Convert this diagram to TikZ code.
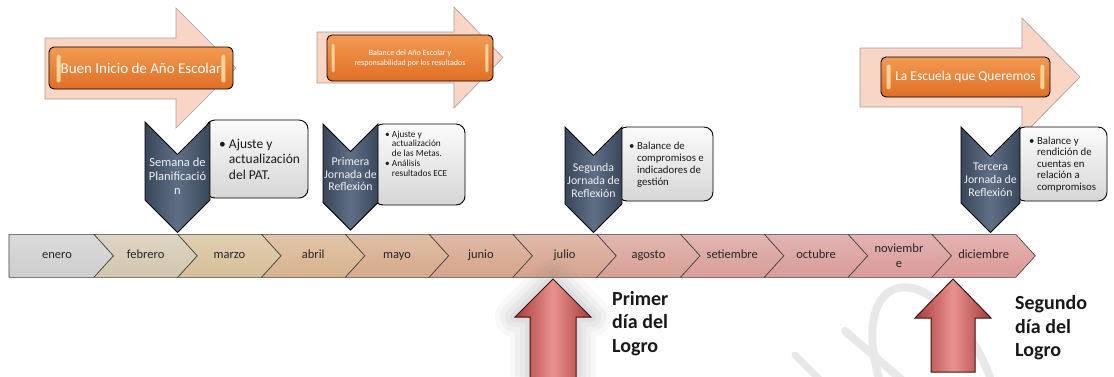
\documentclass[tikz,border=0pt]{standalone}
\usepackage{fontspec}
\setmainfont{Carlito}
\definecolor{pinkA}{HTML}{F9D5C6}
\definecolor{pinkLine}{HTML}{A89C9C}
\definecolor{orT}{HTML}{F39A52}
\definecolor{orB}{HTML}{E06F24}
\definecolor{obar}{HTML}{FBD49A}
\definecolor{chevD}{HTML}{3A475A}
\definecolor{chevL}{HTML}{5F6F86}
\definecolor{chevT}{HTML}{EEF1F5}
\definecolor{boxT}{HTML}{FBFBFB}
\definecolor{boxB}{HTML}{D6D6D6}
\definecolor{redD}{HTML}{A83A38}
\definecolor{redL}{HTML}{E8928F}
\definecolor{redE}{HTML}{3A1414}
\definecolor{monthtext}{HTML}{262626}
\definecolor{wm}{HTML}{E8E8E8}
\definecolor{m0}{HTML}{CECECE}
\definecolor{m1}{HTML}{D2C6AE}
\definecolor{m2}{HTML}{D6BE98}
\definecolor{m3}{HTML}{D7B28D}
\definecolor{m4}{HTML}{D6A98A}
\definecolor{m5}{HTML}{D5A38A}
\definecolor{m6}{HTML}{D6A28D}
\definecolor{m7}{HTML}{D79F95}
\definecolor{m8}{HTML}{D89D98}
\definecolor{m9}{HTML}{D89B99}
\definecolor{m10}{HTML}{D99A99}
\definecolor{m11}{HTML}{DB9996}
\tikzset{
  pinkarrow/.style={fill=pinkA, draw=pinkLine, line width=0.6pt, line join=miter},
  orangebox/.style={draw=black, line width=0.9pt, rounded corners=5pt, top color=orT, bottom color=orB, text=white, inner sep=0pt},
  orbar/.style={fill=obar, rounded corners=1.5pt},
  chev/.style={draw=black, line width=0.8pt, left color=chevD, right color=chevD, middle color=chevL},
  chevtext/.style={text=chevT, align=center, inner sep=0pt},
  callout/.style={draw=black, line width=0.9pt, rounded corners=9pt, top color=boxT, bottom color=boxB, inner sep=0pt},
  callouttext/.style={align=left, anchor=west, inner sep=0pt, text=black!90},
  seg/.style={draw=black!75, line width=0.6pt},
  monthlbl/.style={font=\fontsize{12.5}{14}\selectfont, text=monthtext, align=center, inner sep=0pt},
  monthone/.style={monthlbl, text height=8.6pt, text depth=2.9pt},
  redarrow/.style={draw=redE, line width=1pt, left color=redD, right color=redD, middle color=redL, line join=miter},
  glow/.style={draw=gray, line join=round},
  wmark/.style={draw=wm, line cap=round},
  logro/.style={font=\bfseries\fontsize{20}{23.5}\selectfont, align=left, anchor=west, inner sep=0pt, text=black!90}
}
\begin{document}
\begin{tikzpicture}[x=1pt,y=-1pt]
\clip (0,0) rectangle (1114,376);
\fill[white] (0,0) rectangle (1114,376);

% watermark
\draw[wmark, line width=8pt, rotate around={25:(937,385)}] (937,385) ellipse [x radius=52, y radius=105];
\draw[wmark, line width=8pt] (845,331) -- (902,380);
\draw[wmark, line width=7pt] (795,355) -- (820,380);

% top pink arrows
\draw[pinkarrow] (45,38) -- (176,38) -- (176,8) -- (236,68) -- (176,128) -- (176,99) -- (45,99) -- cycle;
\draw[pinkarrow] (317,32) -- (454,32) -- (454,7) -- (503,57.5) -- (454,108) -- (454,83) -- (317,83) -- cycle;
\draw[pinkarrow] (860,48) -- (1022,48) -- (1022,18) -- (1080,77) -- (1022,136) -- (1022,107) -- (860,107) -- cycle;

% orange boxes
\node[orangebox, minimum width=184pt, minimum height=42pt, font=\fontsize{15}{17}\selectfont] (o1) at (141,68) {Buen Inicio de Año Escolar};
\node[orangebox, minimum width=166pt, minimum height=46pt, align=center, font=\fontsize{8}{10}\selectfont] (o2) at (410,58) {Balance del Año Escolar y\\responsabilidad por los resultados};
\node[orangebox, minimum width=169pt, minimum height=40pt, font=\fontsize{13.5}{15}\selectfont] (o3) at (965.5,77) {La Escuela que Queremos};
\fill[orbar] ([xshift=8pt,yshift=-8pt]o1.north west) rectangle ([xshift=12pt,yshift=7pt]o1.south west);
\fill[orbar] ([xshift=-12pt,yshift=-8pt]o1.north east) rectangle ([xshift=-8pt,yshift=7pt]o1.south east);
\fill[orbar] ([xshift=5pt,yshift=-9pt]o2.north west) rectangle ([xshift=8pt,yshift=9pt]o2.south west);
\fill[orbar] ([xshift=-8pt,yshift=-9pt]o2.north east) rectangle ([xshift=-5pt,yshift=9pt]o2.south east);
\fill[orbar] ([xshift=6pt,yshift=-8pt]o3.north west) rectangle ([xshift=10pt,yshift=8pt]o3.south west);
\fill[orbar] ([xshift=-10pt,yshift=-8pt]o3.north east) rectangle ([xshift=-6pt,yshift=8pt]o3.south east);

% callout boxes
\node[callout, minimum width=102pt, minimum height=78pt] (c1) at (257,159) {};
\node[callout, minimum width=91pt, minimum height=81pt] (c2) at (419.5,164.5) {};
\node[callout, minimum width=95pt, minimum height=74pt] (c3) at (665.5,164) {};
\node[callout, minimum width=91pt, minimum height=74pt] (c4) at (1061.5,164) {};

\node[callouttext, font=\fontsize{13.5}{15.5}\selectfont] (t1) at (219,159)
  {\textbullet\ Ajuste y\\\phantom{\textbullet\ }actualización\\\phantom{\textbullet\ }del PAT.};
\node[callouttext, font=\fontsize{9.3}{9.6}\selectfont] (t2) at (385,153.5)
  {\textbullet\ Ajuste y\\\phantom{\textbullet\ }actualización\\\phantom{\textbullet\ }de las Metas.\\[0.8pt]\textbullet\ Análisis\\\phantom{\textbullet\ }resultados ECE};
\node[callouttext, font=\fontsize{10.8}{12}\selectfont] (t3) at (629,165)
  {\textbullet\ Balance de\\\phantom{\textbullet\ }compromisos e\\\phantom{\textbullet\ }indicadores de\\\phantom{\textbullet\ }gestión};
\node[callouttext, font=\fontsize{10.8}{11.4}\selectfont] (t4) at (1029,164.5)
  {\textbullet\ Balance y\\\phantom{\textbullet\ }rendición de\\\phantom{\textbullet\ }cuentas en\\\phantom{\textbullet\ }relación a\\\phantom{\textbullet\ }compromisos};

% down chevrons
\draw[chev] (145,122) -- (177.5,154.5) -- (210,122) -- (210,200) -- (177.5,232.5) -- (145,200) -- cycle;
\draw[chev] (323,124) -- (350.5,151.5) -- (378,124) -- (378,202.5) -- (350.5,230) -- (323,202.5) -- cycle;
\draw[chev] (565,127) -- (593.5,155.5) -- (622,127) -- (622,204) -- (593.5,232.5) -- (565,204) -- cycle;
\draw[chev] (961,127) -- (990.5,156.5) -- (1020,127) -- (1020,203) -- (990.5,232.5) -- (961,203) -- cycle;
\node[chevtext, font=\fontsize{12.5}{14}\selectfont] (k1) at (177.5,176) {Semana de\\Planificació\\n};
\node[chevtext, font=\fontsize{11.8}{12.5}\selectfont] (k2) at (350.5,174) {Primera\\Jornada de\\Reflexión};
\node[chevtext, font=\fontsize{11.8}{13}\selectfont] (k3) at (593.5,180) {Segunda\\Jornada de\\Reflexión};
\node[chevtext, font=\fontsize{11.8}{13}\selectfont] (k4) at (990.5,180) {Tercera\\Jornada de\\Reflexión};

% timeline
\foreach \i/\c/\t in {0/m0/enero,1/m1/febrero,2/m2/marzo,3/m3/abril,4/m4/mayo,5/m5/junio,6/m6/julio,7/m7/agosto,8/m8/setiembre,9/m9/octubre,10/m10/noviembre,11/m11/diciembre}{
  \pgfmathsetmacro\xl{10.2+83.8*\i}
  \pgfmathsetmacro\xr{10.2+83.8*(\i+1)}
  \ifnum\i=0
    \draw[seg, top color=\c!75!white, bottom color=\c] (9,234.3) -- (\xr,234.3) -- (\xr+19.5,255.8) -- (\xr,277.3) -- (9,277.3) -- cycle;
  \else
    \draw[seg, top color=\c!75!white, bottom color=\c] (\xl,234.3) -- (\xr,234.3) -- (\xr+19.5,255.8) -- (\xr,277.3) -- (\xl,277.3) -- (\xl+19.5,255.8) -- cycle;
  \fi
}
\foreach \i/\t in {1/febrero,2/marzo,3/abril,4/mayo,5/junio,6/julio,7/agosto,8/setiembre,9/octubre,11/diciembre}{
  \pgfmathsetmacro\xm{10.2+83.8*\i+41.9+9.75}
  \node[monthone] (mon\i) at (\xm,255.8) {\t};
}
\node[monthone] (mon0) at (57,255.8) {enero};
\node[monthlbl, font=\fontsize{12.5}{15}\selectfont] (mon10) at (899,255.8) {noviembr\\e};

% glow behind first red arrow
\foreach \w/\o in {40/0.05,30/0.06,20/0.07,10/0.08}{
  \draw[glow, line width=\w pt, opacity=\o] (553,279) -- (591,317) -- (576,317) -- (576,380) -- (530,380) -- (530,317) -- (515,317) -- cycle;
}
% red arrows
\draw[redarrow] (553,279) -- (591,317) -- (576,317) -- (576,380) -- (530,380) -- (530,317) -- (515,317) -- cycle;
\draw[redarrow] (953,279) -- (991,318) -- (975,318) -- (975,372) -- (931,372) -- (931,318) -- (915,318) -- cycle;

\node[logro] (l1) at (612,323.5) {Primer\\día del\\Logro};
\node[logro] (l2) at (1015,328) {Segundo\\día del\\Logro};
\end{tikzpicture}
\end{document}
